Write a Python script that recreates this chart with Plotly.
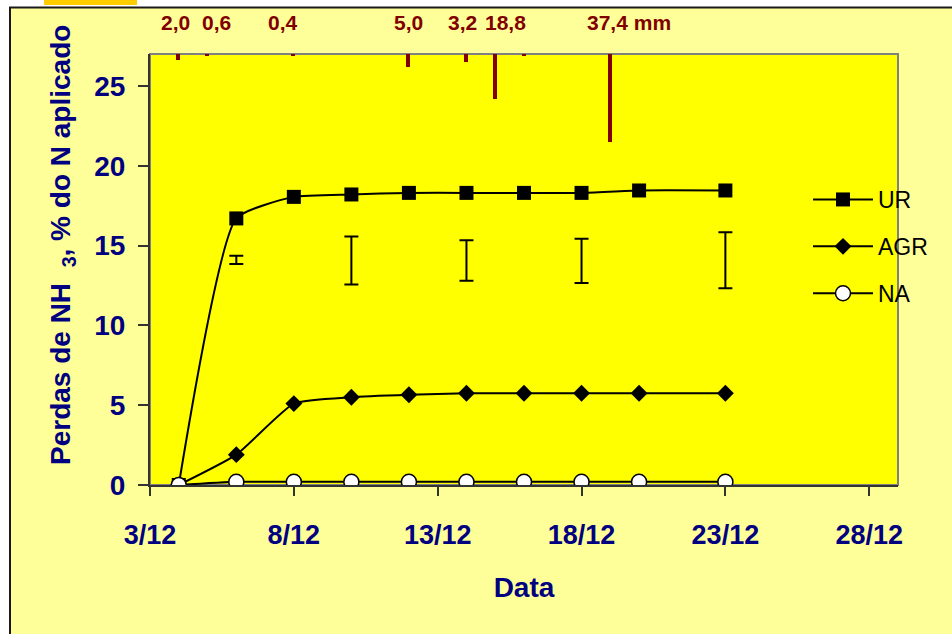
import plotly.graph_objects as go

# ---------------- data ----------------
dates = ["2023-12-04", "2023-12-06", "2023-12-08", "2023-12-10", "2023-12-12",
         "2023-12-14", "2023-12-16", "2023-12-18", "2023-12-20", "2023-12-23"]
ur = [0.0, 16.7, 18.05, 18.2, 18.3, 18.3, 18.3, 18.3, 18.45, 18.45]
agr = [0.0, 1.9, 5.1, 5.5, 5.65, 5.75, 5.75, 5.75, 5.75, 5.75]
na = [0.0, 0.2, 0.2, 0.2, 0.2, 0.2, 0.2, 0.2, 0.2, 0.2]

err_dates = ["2023-12-06", "2023-12-10", "2023-12-14", "2023-12-18", "2023-12-23"]
err_center = [14.1, 14.06, 14.07, 14.04, 14.08]
err_half = [0.26, 1.5, 1.27, 1.38, 1.75]

rain_dates = ["2023-12-04", "2023-12-05", "2023-12-08", "2023-12-12",
              "2023-12-14", "2023-12-15", "2023-12-16", "2023-12-19"]
rain_mm = [2.0, 0.6, 0.4, 5.0, 3.2, 18.8, 0.5, 37.4]
rain_labels = ["2,0", "0,6", "0,4", "5,0", "3,2", "18,8", "", "37,4 mm"]

tick_dates = ["2023-12-03", "2023-12-08", "2023-12-13", "2023-12-18",
              "2023-12-23", "2023-12-28"]
tick_labels = ["3/12", "8/12", "13/12", "18/12", "23/12", "28/12"]
y_ticks = [0, 5, 10, 15, 20, 25]

x_title = "Data"
y_title = "Perdas de NH&nbsp;&nbsp;<sub>3</sub>, % do N aplicado"

# ---------------- layout geometry / style ----------------
W, H = 952, 634
PL, PR, PT, PB = 150, 898, 54, 485
PW, PH = PR - PL, PB - PT


def px(X):
    return (X - PL) / PW


def py(Y):
    return (PB - Y) / PH


FONT = "Arial, Liberation Sans, sans-serif"
NAVY = "#000080"
RAIN = "#800000"
label_xshift = [-3, 9, -11, 0, -4, 10, 0, -25]
SMOOTH = 0.5

fig = go.Figure()

fig.add_trace(go.Scatter(
    x=dates, y=ur, name="UR", mode="lines+markers",
    line=dict(color="black", width=2, shape="spline", smoothing=SMOOTH),
    marker=dict(symbol="square", size=14, color="black"),
    legendgroup="ur"))
fig.add_trace(go.Scatter(
    x=dates, y=agr, name="AGR", mode="lines+markers",
    line=dict(color="black", width=2, shape="spline", smoothing=SMOOTH),
    marker=dict(symbol="diamond", size=13, color="black"),
    legendgroup="agr"))
fig.add_trace(go.Scatter(
    x=dates, y=na, name="NA", mode="lines+markers",
    line=dict(color="black", width=2, shape="spline", smoothing=SMOOTH),
    marker=dict(symbol="circle", size=15, color="white",
                line=dict(color="black", width=1.5)),
    legendgroup="na"))

fig.add_trace(go.Scatter(
    x=err_dates, y=err_center, mode="markers", showlegend=False,
    marker=dict(size=1, color="rgba(0,0,0,0)"),
    error_y=dict(type="data", array=err_half, color="black",
                 thickness=2, width=7),
    hoverinfo="skip"))

day_ms = 86400000
fig.add_trace(go.Bar(
    x=rain_dates, y=rain_mm, yaxis="y2", showlegend=False,
    width=[day_ms * 0.035] * len(rain_dates),
    marker=dict(color=RAIN, line=dict(color=RAIN, width=3)),
    hoverinfo="skip"))

for d, lab, sh in zip(rain_dates, rain_labels, label_xshift):
    if not lab:
        continue
    fig.add_annotation(
        x=d, xref="x", y=py(22), yref="paper", text=lab, showarrow=False,
        xanchor="left" if "mm" in lab else "center", yanchor="middle",
        xshift=sh, font=dict(family=FONT, size=21, color=RAIN, weight="bold"))

# y-axis title (placed as rotated text, offset upward as in the original)
fig.add_annotation(
    x=px(62), xref="paper", y=py(245), yref="paper", text=y_title,
    textangle=-90, showarrow=False, xanchor="center", yanchor="middle",
    font=dict(family=FONT, size=28, color=NAVY, weight="bold"))

shapes = [
    dict(type="rect", xref="paper", yref="paper", x0=px(0), x1=px(W),
         y0=py(7), y1=py(0), fillcolor="white", line=dict(width=0), layer="below"),
    dict(type="rect", xref="paper", yref="paper", x0=px(0), x1=px(9),
         y0=py(H), y1=py(0), fillcolor="white", line=dict(width=0), layer="below"),
    dict(type="rect", xref="paper", yref="paper", x0=px(44), x1=px(137),
         y0=py(5), y1=py(0), fillcolor="#FFCC00", line=dict(width=0), layer="below"),
    dict(type="line", xref="paper", yref="paper", x0=px(9), x1=px(W),
         y0=py(7.5), y1=py(7.5), line=dict(color="#1a1a1a", width=2), layer="below"),
    dict(type="line", xref="paper", yref="paper", x0=px(10), x1=px(10),
         y0=py(7), y1=py(H), line=dict(color="#1a1a1a", width=2), layer="below"),
    dict(type="rect", xref="paper", yref="paper", x0=0, x1=1, y0=0, y1=1,
         line=dict(color="#808080", width=2), layer="below"),
]

fig.update_layout(
    width=W, height=H, autosize=False,
    margin=dict(l=PL, r=W - PR, t=PT, b=H - PB, pad=0),
    paper_bgcolor="#FFFF99", plot_bgcolor="#FFFF00",
    font=dict(family=FONT, color=NAVY),
    shapes=shapes,
    showlegend=True,
    legend=dict(x=px(808), y=py(178), xanchor="left", yanchor="top",
                bgcolor="rgba(0,0,0,0)", borderwidth=0,
                font=dict(family=FONT, size=23, color="black"),
                tracegroupgap=14, itemwidth=60),
    xaxis=dict(
        type="date", range=["2023-12-03", "2023-12-29"],
        tickvals=tick_dates, ticktext=tick_labels,
        ticks="outside", ticklen=9, tickwidth=2, tickcolor="#333333",
        showline=True, linecolor="#333333", linewidth=2, showgrid=False,
        zeroline=False, ticklabelstandoff=16,
        tickfont=dict(family=FONT, size=27, color=NAVY, weight="bold"),
        title=dict(text=x_title, standoff=28,
                   font=dict(family=FONT, size=28, color=NAVY, weight="bold"))),
    yaxis=dict(
        range=[0, 27], tickvals=y_ticks,
        ticks="outside", ticklen=10, tickwidth=2, tickcolor="#333333",
        showline=True, linecolor="#333333", linewidth=2, showgrid=False,
        zeroline=False, ticklabelstandoff=7,
        tickfont=dict(family=FONT, size=28, color=NAVY, weight="bold")),
    yaxis2=dict(overlaying="y", range=[185, 0], visible=False),
    bargap=0,
)

fig.write_html("out.html")
